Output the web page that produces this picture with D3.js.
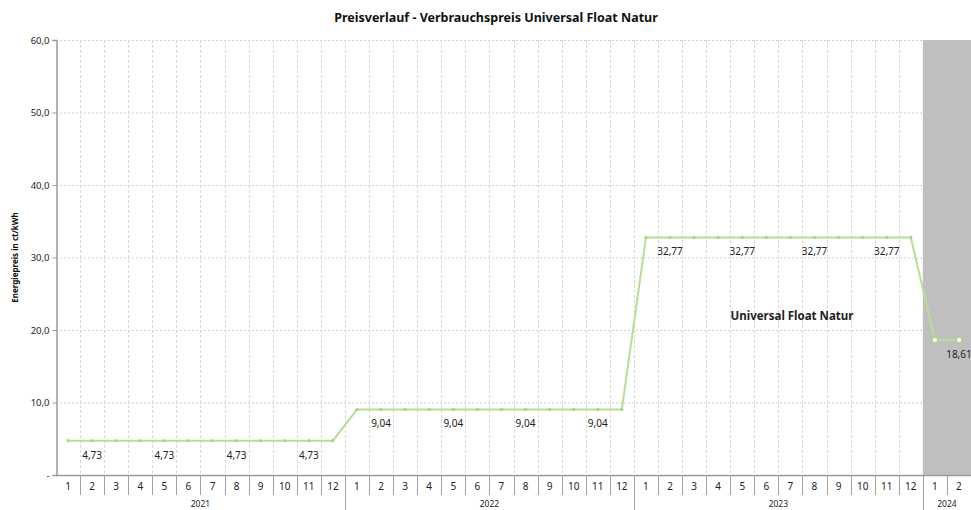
<!DOCTYPE html>
<html>
<head>
<meta charset="utf-8">
<script src="https://cdn.jsdelivr.net/npm/d3@7"></script>
<style>
  body { margin: 0; background: #fff; }
  text { font-family: "Noto Sans", "DejaVu Sans", sans-serif; }
</style>
</head>
<body>
<div class="main"></div>
<script>
// data
var years = ["2021", "2022", "2023", "2024"];
var monthsPerYear = [12, 12, 12, 2];
var prices = [
  4.73, 4.73, 4.73, 4.73, 4.73, 4.73, 4.73, 4.73, 4.73, 4.73, 4.73, 4.73,
  9.04, 9.04, 9.04, 9.04, 9.04, 9.04, 9.04, 9.04, 9.04, 9.04, 9.04, 9.04,
  32.77, 32.77, 32.77, 32.77, 32.77, 32.77, 32.77, 32.77, 32.77, 32.77, 32.77, 32.77,
  18.61, 18.61
];
var yTicks = [0, 10, 20, 30, 40, 50, 60];
var forecastYear = "2024";

var width = 971, height = 510;
var margin = {left: 56, top: 40, right: 0, bottom: 35};

// build the category list
var cats = [];
years.forEach(function(y, yi) {
  for (var m = 1; m <= monthsPerYear[yi]; m++) {
    cats.push({key: y + "-" + m, year: y, month: m, value: prices[cats.length]});
  }
});

var svg = d3.select("div.main").append("svg")
  .attr("width", width)
  .attr("height", height);

var x = d3.scaleBand()
  .domain(cats.map(function(d) { return d.key; }))
  .range([margin.left, width - margin.right])
  .padding(0);

var y = d3.scaleLinear()
  .domain([0, 60])
  .range([height - margin.bottom, margin.top]);

var bw = x.bandwidth();

// forecast shading
var fc = cats.filter(function(d) { return d.year == forecastYear; });
svg.append("rect")
  .attr("x", x(fc[0].key))
  .attr("y", y(60))
  .attr("width", bw * fc.length)
  .attr("height", y(0) - y(60))
  .attr("fill", "#bfbfbf");

// grid
svg.append("g").selectAll("line")
  .data(yTicks.slice(1))
  .enter().append("line")
  .attr("x1", margin.left).attr("x2", x(fc[0].key))
  .attr("y1", function(d) { return y(d) + 0.5; })
  .attr("y2", function(d) { return y(d) + 0.5; })
  .attr("stroke", "#d0d0d0")
  .attr("stroke-dasharray", "2,2");

svg.append("g").selectAll("line")
  .data(cats.filter(function(d) { return d.year != forecastYear; }).slice(1))
  .enter().append("line")
  .attr("x1", function(d) { return Math.round(x(d.key)) + 0.5; })
  .attr("x2", function(d) { return Math.round(x(d.key)) + 0.5; })
  .attr("y1", y(60)).attr("y2", y(0))
  .attr("stroke", "#d8d8d8")
  .attr("stroke-dasharray", "3,2");

// y axis
var yAxis = d3.axisLeft(y)
  .tickValues(yTicks)
  .tickSize(4)
  .tickFormat(function(d) { return d == 0 ? "-" : d3.format(".1f")(d).replace(".", ","); });
var ga = svg.append("g")
  .attr("transform", "translate(" + (margin.left + 0.5) + ",0)")
  .call(yAxis);
ga.select(".domain").attr("stroke", "#9a9a9a").attr("stroke-width", 1.5);
ga.selectAll(".tick line").attr("stroke", "#9a9a9a");
ga.selectAll(".tick text").attr("font-size", 9.5).attr("fill", "#222").attr("x", -7);

// x axis (months)
var gx = svg.append("g");
gx.append("line")
  .attr("x1", margin.left).attr("x2", width)
  .attr("y1", y(0) + 0.5).attr("y2", y(0) + 0.5)
  .attr("stroke", "#9a9a9a").attr("stroke-width", 1.5);

gx.selectAll("line.mt")
  .data(cats.slice(1))
  .enter().append("line")
  .attr("class", "mt")
  .attr("x1", function(d) { return Math.round(x(d.key)) + 0.5; })
  .attr("x2", function(d) { return Math.round(x(d.key)) + 0.5; })
  .attr("y1", y(0))
  .attr("y2", function(d) { return d.month == 1 ? height : y(0) + 20; })
  .attr("stroke", "#a0a0a0");

gx.selectAll("text.ml")
  .data(cats)
  .enter().append("text")
  .attr("class", "ml")
  .attr("x", function(d) { return x(d.key) + bw / 2; })
  .attr("y", y(0) + 15)
  .attr("text-anchor", "middle")
  .attr("font-size", 10)
  .attr("fill", "#222")
  .text(function(d) { return d.month; });

// year labels
years.forEach(function(yr) {
  var cs = cats.filter(function(d) { return d.year == yr; });
  var x0 = x(cs[0].key), x1 = x(cs[cs.length - 1].key) + bw;
  gx.append("text")
    .attr("x", (x0 + x1) / 2)
    .attr("y", height - 3)
    .attr("text-anchor", "middle")
    .attr("font-size", 8.5)
    .attr("fill", "#222")
    .text(yr);
});

// line
var line = d3.line()
  .x(function(d) { return x(d.key) + bw / 2; })
  .y(function(d) { return y(d.value); });

svg.append("path")
  .datum(cats)
  .attr("d", line)
  .attr("fill", "none")
  .attr("stroke", "#b7de95")
  .attr("stroke-width", 2);

svg.append("g").selectAll("circle")
  .data(cats)
  .enter().append("circle")
  .attr("cx", function(d) { return x(d.key) + bw / 2; })
  .attr("cy", function(d) { return y(d.value); })
  .attr("r", function(d) { return d.year == forecastYear ? 2.8 : 1.6; })
  .attr("fill", function(d) { return d.year == forecastYear ? "#fff" : "#a9d585"; })
  .attr("stroke", "#a9d585")
  .attr("stroke-width", function(d) { return d.year == forecastYear ? 1.3 : 0; });

// data labels
svg.append("g").selectAll("text")
  .data(cats.filter(function(d) { return d.month % 3 == 2; }))
  .enter().append("text")
  .attr("x", function(d) { return x(d.key) + bw / 2; })
  .attr("y", function(d) { return y(d.value) + 18; })
  .attr("text-anchor", "middle")
  .attr("font-size", 10)
  .attr("fill", "#222")
  .text(function(d) { return d3.format(".2f")(d.value).replace(".", ","); });

// title
svg.append("text")
  .attr("x", 496)
  .attr("y", 22)
  .attr("text-anchor", "middle")
  .attr("font-size", 12.5)
  .attr("font-weight", "bold")
  .attr("fill", "#111")
  .text("Preisverlauf - Verbrauchspreis Universal Float Natur");

// y title
svg.append("text")
  .attr("transform", "translate(18," + y(30) + ") rotate(-90)")
  .attr("text-anchor", "middle")
  .attr("font-size", 8)
  .attr("font-weight", "bold")
  .attr("fill", "#111")
  .text("Energiepreis in ct/kWh");

// series label
svg.append("text")
  .attr("x", 792)
  .attr("y", 320)
  .attr("text-anchor", "middle")
  .attr("font-size", 11.5)
  .attr("font-weight", "bold")
  .attr("fill", "#222")
  .text("Universal Float Natur");
</script>
</body>
</html>
